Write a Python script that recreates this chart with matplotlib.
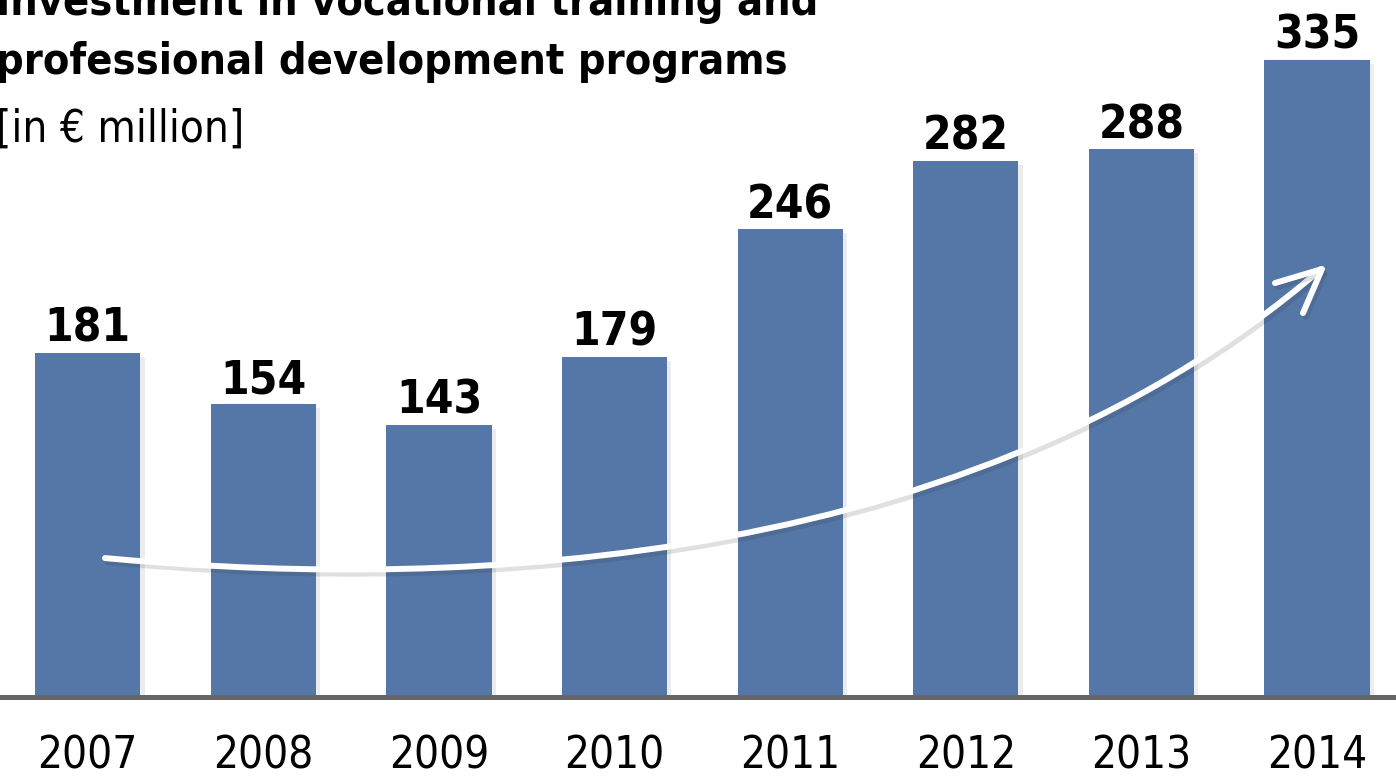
import matplotlib.pyplot as plt
import matplotlib.patheffects as pe
from matplotlib.path import Path
from matplotlib.patches import PathPatch

YEARS = ["2007", "2008", "2009", "2010", "2011", "2012", "2013", "2014"]
VALUES = [181, 154, 143, 179, 246, 282, 288, 335]

TITLE_1 = "Investment in vocational training and"
TITLE_2 = "professional development programs"
SUBTITLE = "[in € million]"

BAR_COLOR = "#5577a8"
FONT = ["DejaVu Sans"]
STRETCH = "condensed"

fig = plt.figure(figsize=(13.96, 7.78), dpi=100)
ax = fig.add_axes([0, 0.104, 1, 0.896])

x = range(len(YEARS))
bars = ax.bar(x, VALUES, width=0.6, color=BAR_COLOR, zorder=2)
for b in bars:
    b.set_path_effects([pe.SimplePatchShadow(offset=(3, -3), shadow_rgbFace="#999999", alpha=0.18),
                        pe.Normal()])

for i, v in enumerate(VALUES):
    ax.annotate(str(v), (i, v), xytext=(0, 8), textcoords="offset points",
                ha="center", va="baseline", fontsize=33, fontweight="bold",
                family=FONT, fontstretch=STRETCH, zorder=4)

ax.set_xlim(-0.5, 7.45)
ax.set_ylim(0, 366.5)
ax.set_xticks(list(x))
ax.set_xticklabels(YEARS, fontsize=31.5, family=FONT, fontstretch=STRETCH)
ax.tick_params(axis="x", length=0, pad=27)
ax.set_yticks([])
for s in ["left", "right", "top"]:
    ax.spines[s].set_visible(False)
ax.spines["bottom"].set_color("#666666")
ax.spines["bottom"].set_linewidth(3.6)
ax.spines["bottom"].set_zorder(3)

# growth arrow, placed in axes fractions
W, H = 1396.0, 697.0
def af(px, py):
    return (px / W, (H - py) / H)

curve = Path([af(105, 558), af(400, 585), af(950, 590), af(1321, 269)],
             [Path.MOVETO, Path.CURVE4, Path.CURVE4, Path.CURVE4])
head = Path([af(1275, 283), af(1322, 269), af(1303, 313)],
            [Path.MOVETO, Path.LINETO, Path.LINETO])
for p in (curve, head):
    patch = PathPatch(p, transform=ax.transAxes, facecolor="none", edgecolor="white",
                      linewidth=4.3, capstyle="round", joinstyle="round", zorder=5)
    patch.set_path_effects([pe.SimpleLineShadow(offset=(2, -3), shadow_color="#333333", alpha=0.15),
                            pe.Normal()])
    ax.add_patch(patch)

fig.text(-0.003, 1 - 15 / 778, TITLE_1, fontsize=31, fontweight="bold", family=FONT,
         fontstretch=STRETCH, ha="left", va="baseline")
fig.text(-0.003, 1 - 74 / 778, TITLE_2, fontsize=31, fontweight="bold", family=FONT,
         fontstretch=STRETCH, ha="left", va="baseline")
fig.text(-0.003, 1 - 142 / 778, SUBTITLE, fontsize=31.5, family=FONT,
         fontstretch=STRETCH, ha="left", va="baseline")

fig.savefig("out.png", dpi=100)
